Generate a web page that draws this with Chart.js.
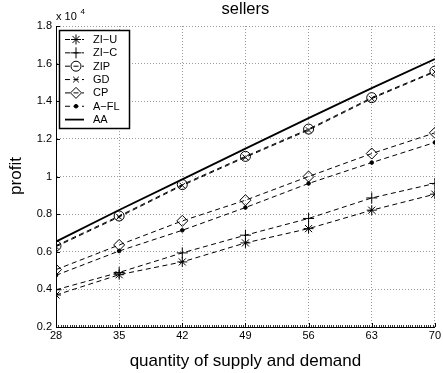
<!DOCTYPE html>
<html>
<head>
<meta charset="utf-8">
<script src="https://cdn.jsdelivr.net/npm/chart.js@4"></script>
<style>
  html, body { margin: 0; padding: 0; background: #fff; }
  #wrap { width: 443px; height: 373px; }
</style>
</head>
<body>
<div id="wrap"><canvas id="c" width="443" height="373"></canvas></div>
<script>
// quantity of supply and demand
const quantity = [28, 35, 42, 49, 56, 63, 70];
// seller profit, in units of 10^4
const ziU  = [0.370, 0.478, 0.546, 0.647, 0.723, 0.821, 0.906];
const ziC  = [0.398, 0.490, 0.594, 0.688, 0.777, 0.886, 0.963];
const zip  = [0.632, 0.790, 0.957, 1.107, 1.252, 1.419, 1.560];
const gd   = [0.627, 0.785, 0.952, 1.102, 1.247, 1.414, 1.556];
const cp   = [0.505, 0.636, 0.764, 0.874, 1.000, 1.122, 1.232];
const afl  = [0.475, 0.604, 0.714, 0.835, 0.963, 1.074, 1.181];
const aa   = [0.654, 0.822, 0.985, 1.148, 1.310, 1.470, 1.624];
const seriesNames = ['ZI\u2212U', 'ZI\u2212C', 'ZIP', 'GD', 'CP', 'A\u2212FL', 'AA'];
const yTicks = [0.2, 0.4, 0.6, 0.8, 1, 1.2, 1.4, 1.6, 1.8];

const FONT = '"Liberation Sans", Arial, Helvetica, sans-serif';
const DASH = [5, 3.5];

function pts(vals) { return vals.map((v, i) => ({ x: quantity[i], y: v })); }

function series(label, vals, style, radius, dashed, width) {
  return {
    label,
    data: pts(vals),
    borderColor: '#000',
    backgroundColor: style === 'dot' ? '#000' : 'rgba(0,0,0,0)',
    borderWidth: width || 1,
    borderDash: dashed ? DASH : [],
    pointStyle: style === 'dot' ? 'circle' : style,
    pointRadius: radius,
    pointBorderWidth: 1,
    pointBorderColor: '#000',
    pointBackgroundColor: style === 'dot' ? '#000' : 'rgba(0,0,0,0)',
    tension: 0,
    fill: false
  };
}

const datasets = [
  series(seriesNames[0], ziU, 'star', 5, true),
  series(seriesNames[1], ziC, 'cross', 5.5, true),
  series(seriesNames[2], zip, 'circle', 5, true),
  series(seriesNames[3], gd, 'crossRot', 4, true),
  series(seriesNames[4], cp, 'rectRot', 5.5, true),
  series(seriesNames[5], afl, 'dot', 1.8, true),
  series(seriesNames[6], aa, false, 0, false, 1.8)
];

// axis decorations: inward major ticks, fine minor ticks on the x axis, texts
const decorations = {
  id: 'decorations',
  afterDraw(chart) {
    const { ctx, chartArea: a, scales } = chart;
    const xs = scales.x, ys = scales.y;
    ctx.save();
    ctx.strokeStyle = '#000';
    ctx.lineWidth = 1;
    ctx.setLineDash([]);
    // minor ticks along the bottom axis
    ctx.strokeStyle = '#333';
    for (let v = quantity[0]; v <= quantity[quantity.length - 1] + 1e-9; v += 0.25) {
      const px = Math.round(xs.getPixelForValue(v)) + 0.5;
      ctx.beginPath();
      ctx.moveTo(px, a.bottom);
      ctx.lineTo(px, a.bottom - 2);
      ctx.stroke();
    }
    ctx.strokeStyle = '#000';
    quantity.forEach(q => {
      const px = Math.round(xs.getPixelForValue(q)) + 0.5;
      ctx.beginPath();
      ctx.moveTo(px, a.bottom);
      ctx.lineTo(px, a.bottom - 4);
      ctx.stroke();
    });
    yTicks.forEach(t => {
      const py = Math.round(ys.getPixelForValue(t)) + 0.5;
      ctx.beginPath();
      ctx.moveTo(a.left, py);
      ctx.lineTo(a.left + 4, py);
      ctx.stroke();
    });

    // texts
    ctx.fillStyle = '#000';
    ctx.textAlign = 'center';
    ctx.textBaseline = 'middle';
    ctx.font = '16.5px ' + FONT;
    ctx.fillText('sellers', (a.left + a.right) / 2, 9.5);
    ctx.font = '17px ' + FONT;
    ctx.fillText('quantity of supply and demand', (a.left + a.right) / 2, 361);
    ctx.save();
    ctx.translate(16, 176);
    ctx.rotate(-Math.PI / 2);
    ctx.fillText('profit', 0, 0);
    ctx.restore();
    ctx.textAlign = 'left';
    ctx.font = '11px ' + FONT;
    ctx.fillText('x 10', 56, 17);
    ctx.font = '8px ' + FONT;
    ctx.fillText('4', 80.5, 12);

    // legend box
    const bx = 59.5, by = 30.5, bw = 70, bh = 98;
    ctx.fillStyle = '#fff';
    ctx.fillRect(bx, by, bw, bh);
    ctx.lineWidth = 1.5;
    ctx.strokeStyle = '#000';
    ctx.strokeRect(bx, by, bw, bh);
    chart.data.datasets.forEach((ds, i) => {
      const y = 39.5 + i * 13.35;
      ctx.save();
      ctx.strokeStyle = '#000';
      ctx.lineWidth = ds.borderWidth;
      ctx.setLineDash(ds.borderDash || []);
      ctx.beginPath();
      ctx.moveTo(65, y);
      ctx.lineTo(84, y);
      ctx.stroke();
      ctx.setLineDash([]);
      if (ds.pointRadius > 0) {
        ctx.lineWidth = ds.pointBorderWidth;
        ctx.fillStyle = ds.pointBackgroundColor;
        ctx.strokeStyle = '#000';
        Chart.helpers.drawPoint(ctx, {
          pointStyle: ds.pointStyle,
          radius: ds.pointRadius,
          rotation: 0,
          borderWidth: ds.pointBorderWidth
        }, 76, y);
      }
      ctx.restore();
      ctx.fillStyle = '#000';
      ctx.font = '11px ' + FONT;
      ctx.textAlign = 'left';
      ctx.textBaseline = 'middle';
      ctx.fillText(ds.label, 93, y + 0.5);
    });
    ctx.restore();
  }
};

new Chart(document.getElementById('c'), {
  type: 'line',
  data: { datasets },
  options: {
    responsive: false,
    animation: false,
    layout: { padding: { left: 0, right: 7, top: 26, bottom: 0 } },
    plugins: { legend: { display: false }, title: { display: false }, tooltip: { enabled: false } },
    scales: {
      x: {
        type: 'linear',
        min: 28,
        max: 70,
        afterFit(scale) { scale.height = 46; },
        afterBuildTicks(scale) { scale.ticks = quantity.map(v => ({ value: v })); },
        ticks: {
          color: '#000',
          font: { family: FONT, size: 11 },
          padding: 2,
          maxRotation: 0,
          autoSkip: false,
          callback: v => String(v)
        },
        grid: { color: '#9a9a9a', lineWidth: 1, drawTicks: false },
        border: { display: true, color: '#000', width: 1, dash: [1, 2] }
      },
      y: {
        type: 'linear',
        min: 0.2,
        max: 1.8,
        afterFit(scale) { scale.width = 56; },
        afterBuildTicks(scale) { scale.ticks = yTicks.map(v => ({ value: v })); },
        ticks: {
          color: '#000',
          font: { family: FONT, size: 11 },
          padding: 4,
          callback: v => String(Number(v.toFixed(1)))
        },
        grid: { color: '#9a9a9a', lineWidth: 1, drawTicks: false },
        border: { display: true, color: '#000', width: 1, dash: [1, 2] }
      }
    }
  },
  plugins: [decorations]
});
</script>
</body>
</html>
